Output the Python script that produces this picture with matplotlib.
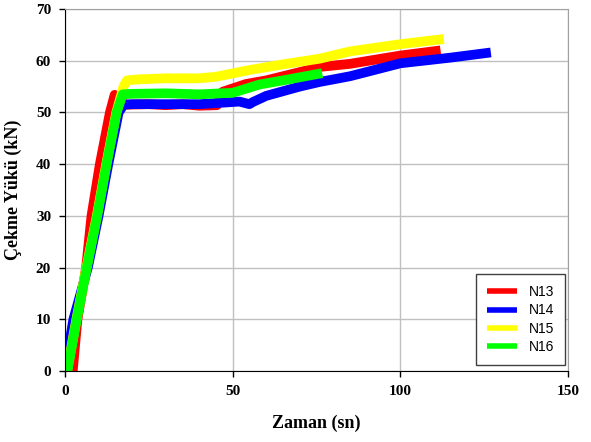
import matplotlib.pyplot as plt

# N13 (kırmızı)
t13 = [2.3, 3.7, 6.3, 7.9, 10.4, 13.4, 14.8, 16.2, 18.5, 25, 30, 35, 40, 45.3, 47, 54, 60, 70, 76, 85, 100, 112]
y13 = [0, 10, 20, 30, 40, 50, 53.4, 52.0, 51.5, 51.6, 51.4, 51.6, 51.3, 51.4, 54.0, 55.5, 56.2, 57.8, 58.8, 59.4, 61.0, 62.0]

# N14 (mavi)
t14 = [0, 2.5, 6.8, 10.0, 12.9, 16.0, 17.5, 20, 30, 40, 45, 52, 55, 56, 60, 70, 76, 85, 100, 115, 127]
y14 = [0.5, 10, 20, 30, 40, 50, 51.5, 51.6, 51.6, 51.6, 51.8, 52.1, 51.6, 52.0, 53.2, 55.0, 55.9, 57.0, 59.5, 60.6, 61.6]

# N15 (sarı)
t15 = [0.6, 3.4, 6.4, 9.5, 12.3, 15.3, 17.5, 18.5, 22, 30, 40, 45, 55, 65, 76, 85, 100, 113]
y15 = [0, 10, 20, 30, 40, 50, 55.1, 56.2, 56.4, 56.6, 56.6, 56.9, 58.2, 59.3, 60.4, 61.8, 63.2, 64.2]

# N16 (yeşil)
t16 = [0.7, 3.5, 6.5, 9.6, 12.4, 15.4, 17.2, 20, 30, 40, 50, 55, 58, 65, 76.7]
y16 = [0, 10, 20, 30, 40, 50, 53.5, 53.6, 53.7, 53.5, 53.8, 54.8, 55.4, 56.2, 57.6]

xticks = [0, 50, 100, 150]
yticks = [0, 10, 20, 30, 40, 50, 60, 70]

fig = plt.figure(figsize=(5.91, 4.42), dpi=100)
ax = fig.add_axes([0.110, 0.1606, 0.851, 0.819])

lw = 7
ax.plot(t13, y13, color='#ff0000', lw=lw, label='N13', solid_capstyle='butt')
ax.plot(t14, y14, color='#0000ff', lw=lw, label='N14', solid_capstyle='butt')
ax.plot(t15, y15, color='#ffff00', lw=lw, label='N15', solid_capstyle='butt')
ax.plot(t16, y16, color='#00ff00', lw=lw, label='N16', solid_capstyle='butt')

ax.set_xlim(0, 150)
ax.set_ylim(0, 70)
ax.set_xticks(xticks)
ax.set_yticks(yticks)
ax.grid(True, color='#c0c0c0', lw=1)
ax.set_axisbelow(True)

for s in ['left', 'bottom']:
    ax.spines[s].set_color('black')
for s in ['top', 'right']:
    ax.spines[s].set_color('#a0a0a0')

ax.tick_params(direction='out', length=4, width=1, pad=6)
for lab in ax.get_xticklabels() + ax.get_yticklabels():
    lab.set_family('Liberation Serif')
    lab.set_fontweight('bold')
    lab.set_fontsize(11)

ax.set_xlabel('Zaman (sn)', family='Liberation Serif', fontweight='bold', fontsize=13, labelpad=12)
ax.set_ylabel('Çekme Yükü (kN)', family='Liberation Serif', fontweight='bold', fontsize=13, labelpad=10)

leg = ax.legend(loc='lower right', prop={'family': 'Liberation Sans', 'size': 10},
                fancybox=False, edgecolor='#404040', framealpha=1,
                handlelength=2.2, borderpad=0.8, labelspacing=0.3,
                borderaxespad=0, bbox_to_anchor=(0.994, 0.017))
leg.get_frame().set_linewidth(1)
for h in leg.get_lines():
    h.set_linewidth(4)

fig.savefig('out.png', dpi=100)
